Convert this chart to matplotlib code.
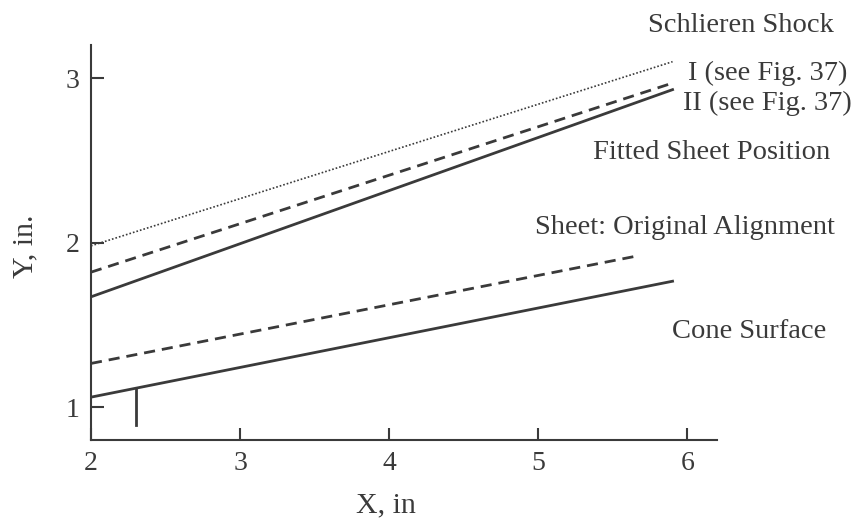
import numpy as np
import matplotlib
matplotlib.use("Agg")
from matplotlib import pyplot as plt

# line end points (x in, y in)
shock_x = [2.0, 5.9]
shock_y = [1.98, 3.10]
fit1_x = [2.0, 5.9]
fit1_y = [1.82, 2.97]
fit2_x = [2.0, 5.9]
fit2_y = [1.67, 2.93]
orig_x = [2.0, 5.67]
orig_y = [1.265, 1.92]
cone_x = [2.0, 5.9]
cone_y = [1.06, 1.765]
marker_x = [2.3, 2.3]
marker_y = [1.115, 0.89]

xticks = [2, 3, 4, 5, 6]
yticks = [1, 2, 3]

plt.rcParams['font.family'] = ['Liberation Serif', 'DejaVu Serif']
ink = '#3a3a3a'

fig = plt.figure(figsize=(8.58, 5.2), dpi=100)
ax = fig.add_axes([0.106, 0.154, 0.730, 0.759])

ax.plot(shock_x, shock_y, ls=(0, (1, 1.2)), lw=1.2, c=ink)
ax.plot(fit1_x, fit1_y, ls=(0, (4, 2.5)), lw=2, c=ink)
ax.plot(fit2_x, fit2_y, ls='-', lw=2, c=ink)
ax.plot(orig_x, orig_y, ls=(0, (4, 2.5)), lw=2, c=ink)
ax.plot(cone_x, cone_y, ls='-', lw=2, c=ink)
ax.plot(marker_x, marker_y, ls='-', lw=2, c=ink)

ax.set_xlim(2, 6.2)
ax.set_ylim(0.8, 3.2)
ax.set_xticks(xticks)
ax.set_yticks(yticks)
ax.tick_params(direction='in', length=9, width=1.5, color=ink, labelsize=20,
               labelcolor=ink, pad=8)
for side in ['top', 'right']:
    ax.spines[side].set_visible(False)
for side in ['left', 'bottom']:
    ax.spines[side].set_linewidth(1.5)
    ax.spines[side].set_color(ink)

ax.set_xlabel('X, in', fontsize=21.5, color=ink, va='center')
ax.set_ylabel('Y, in.', fontsize=21.5, color=ink, va='center')
ax.xaxis.set_label_coords(0.471, -0.166)
ax.yaxis.set_label_coords(-0.104, 0.491)

kw = dict(fontsize=20.5, color=ink, transform=fig.transFigure, va='center', ha='left')
fig.text(648 / 858, 1 - 25 / 520, 'Schlieren Shock', **kw)
fig.text(688 / 858, 1 - 73 / 520, 'I (see Fig. 37)', **kw)
fig.text(683 / 858, 1 - 103 / 520, 'II (see Fig. 37)', **kw)
fig.text(593 / 858, 1 - 152 / 520, 'Fitted Sheet Position', **kw)
fig.text(535 / 858, 1 - 228 / 520, 'Sheet: Original Alignment', **kw)
fig.text(672 / 858, 1 - 332 / 520, 'Cone Surface', **kw)

plt.savefig('out.png', dpi=100)
